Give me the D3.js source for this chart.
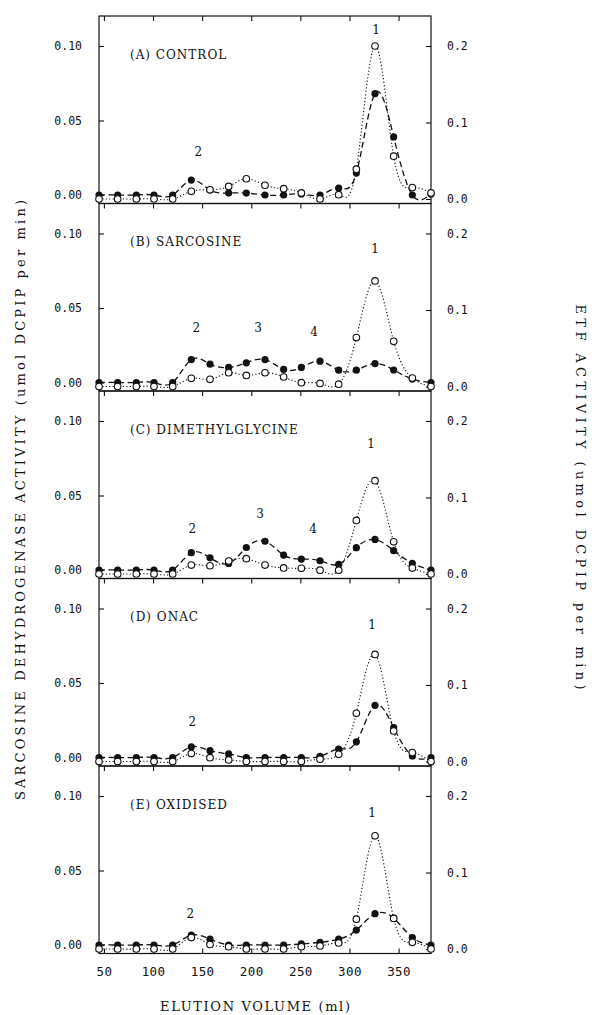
<!DOCTYPE html>
<html>
<head>
<meta charset="utf-8">
<script src="https://cdn.jsdelivr.net/npm/d3@7"></script>
<style>
  html, body { margin: 0; padding: 0; background: #fff; }
  svg { display: block; }
</style>
</head>
<body>
<svg id="chart" width="595" height="1015"></svg>
<script>
// ---------------- DATA ----------------
const volume = [45, 64, 83, 101, 120, 139, 158, 177, 195, 214, 233, 251, 270, 289, 307, 326, 345, 364, 383];

const panelNames = ["(A) CONTROL", "(B) SARCOSINE", "(C) DIMETHYLGLYCINE", "(D) ONAC", "(E) OXIDISED"];

// Sarcosine dehydrogenase activity (filled circles, left axis)
const sdhA = [0, 0, 0, 0, 0, 0.010, 0.0034, 0.0013, 0.0013, 0, 0, 0.0007, 0, 0.0047, 0.0147, 0.068, 0.039, 0, 0.0007];
const sdhB = [0, 0, 0, 0, 0, 0.0154, 0.0123, 0.0101, 0.0132, 0.0154, 0.0088, 0.0101, 0.0143, 0.0083, 0.0083, 0.0127, 0.0084, 0.0023, 0];
const sdhC = [0, 0, 0, 0, 0, 0.0116, 0.0082, 0.0044, 0.0151, 0.0193, 0.010, 0.0073, 0.0062, 0.0038, 0.015, 0.0205, 0.013, 0.0045, 0];
const sdhD = [0, 0, 0, 0, 0, 0.0072, 0.0046, 0.0024, 0, 0, 0, 0, 0.0007, 0.0057, 0.0105, 0.035, 0.020, 0.001, 0];
const sdhE = [0, 0, 0, 0, 0, 0.0066, 0.0039, 0, 0, 0, 0, 0.0007, 0.0018, 0.0039, 0.010, 0.021, 0.018, 0.005, 0];

// ETF activity (open circles, right axis)
const etfA = [0, 0, 0, 0, 0, 0.010, 0.012, 0.0165, 0.0265, 0.018, 0.0135, 0.008, 0, 0.0056, 0.039, 0.20, 0.056, 0.015, 0.008];
const etfB = [0, 0, 0, 0, 0, 0.0107, 0.0094, 0.018, 0.0145, 0.018, 0.0124, 0.005, 0.004, 0.003, 0.064, 0.138, 0.059, 0.011, 0];
const etfC = [0, 0, 0, 0, 0, 0.0117, 0.0108, 0.017, 0.020, 0.0117, 0.008, 0.0074, 0.005, 0.005, 0.070, 0.122, 0.042, 0.0077, 0];
const etfD = [0, 0, 0, 0, 0, 0.0103, 0.005, 0.002, 0, 0, 0, 0, 0.003, 0.0094, 0.063, 0.140, 0.040, 0.0117, 0];
const etfE = [0, 0, 0, 0, 0, 0.015, 0.006, 0.003, 0, 0, 0, 0.003, 0.004, 0.008, 0.039, 0.148, 0.040, 0.0087, 0];

const sdhSeries = [sdhA, sdhB, sdhC, sdhD, sdhE];
const etfSeries = [etfA, etfB, etfC, etfD, etfE];

// Peak labels: [panel index, label, elution volume, value on left axis]
const peakLabels = [
  [0, "1", 327, 0.111], [0, "2", 146, 0.029],
  [1, "1", 326, 0.090], [1, "2", 144, 0.037], [1, "3", 207, 0.037], [1, "4", 264, 0.034],
  [2, "1", 322, 0.085], [2, "2", 140, 0.028], [2, "3", 209, 0.038], [2, "4", 263, 0.028],
  [3, "1", 323, 0.089], [3, "2", 140, 0.024],
  [4, "1", 323, 0.089], [4, "2", 138, 0.021]
];

const xTicks = [50, 100, 150, 200, 250, 300, 350];
const leftTicks = [0, 0.05, 0.10];
const rightTicks = [0, 0.1, 0.2];

const xTitle = "ELUTION VOLUME (ml)";
const leftTitle = "SARCOSINE DEHYDROGENASE ACTIVITY (umol DCPIP per min)";
const rightTitle = "ETF ACTIVITY (umol DCPIP per min)";

// ---------------- LAYOUT ----------------
const svg = d3.select("#chart");
const ink = "#111";
const left = 99, right = 431;
const firstTop = 16, panelH = 187.5;
const serif = "'DejaVu Serif', 'Liberation Serif', serif";
const mono = "'DejaVu Sans Mono', 'Liberation Mono', monospace";

const x = d3.scaleLinear().domain([45, 383]).range([left, right]);

panelNames.forEach((name, p) => {
  const top = firstTop + p * panelH;
  const bottom = top + panelH;
  const yL = d3.scaleLinear().domain([0, 0.1]).range([top + 179, top + 30]);
  const yR = d3.scaleLinear().domain([0, 0.2]).range([top + 183, top + 30]);
  const g = svg.append("g");

  // frame
  g.append("rect")
    .attr("x", left).attr("y", top)
    .attr("width", right - left).attr("height", panelH)
    .attr("fill", "none").attr("stroke", ink).attr("stroke-width", 1.2);

  // top ticks (inward)
  g.append("g").attr("transform", `translate(0,${top})`)
    .call(d3.axisTop(x).tickValues(xTicks).tickSize(-5).tickFormat(""))
    .call(a => a.select(".domain").remove())
    .call(a => a.selectAll("line").attr("stroke", ink).attr("stroke-width", 1.1));

  // left axis
  g.append("g").attr("transform", `translate(${left},0)`)
    .call(d3.axisLeft(yL).tickValues(leftTicks).tickSize(-5).tickPadding(17).tickFormat(d3.format(".2f")))
    .call(a => a.select(".domain").remove())
    .call(a => a.selectAll("line").attr("stroke", ink).attr("stroke-width", 1.1))
    .call(a => a.selectAll("text").attr("fill", ink).style("font-family", mono).style("font-size", "11.5px"));

  // right axis
  g.append("g").attr("transform", `translate(${right},0)`)
    .call(d3.axisRight(yR).tickValues(rightTicks).tickSize(-5).tickPadding(16).tickFormat(d3.format(".1f")))
    .call(a => a.select(".domain").remove())
    .call(a => a.selectAll("line").attr("stroke", ink).attr("stroke-width", 1.1))
    .call(a => a.selectAll("text").attr("fill", ink).style("font-family", mono).style("font-size", "11.5px"));

  // bottom axis on last panel
  if (p === panelNames.length - 1) {
    g.append("g").attr("transform", `translate(0,${bottom})`)
      .call(d3.axisBottom(x).tickValues(xTicks).tickSize(-5).tickPadding(14))
      .call(a => a.select(".domain").remove())
      .call(a => a.selectAll("line").attr("stroke", ink).attr("stroke-width", 1.1))
      .call(a => a.selectAll("text").attr("fill", ink).style("font-family", mono)
        .style("font-size", "12.5px").style("letter-spacing", "0.4px"));
  }

  // panel title
  g.append("text")
    .attr("x", left + 31).attr("y", top + 42.5)
    .attr("fill", ink)
    .style("font-family", serif).style("font-size", "12px").style("letter-spacing", "1px")
    .text(name);

  const sdh = sdhSeries[p].map((v, i) => [volume[i], v]);
  const etf = etfSeries[p].map((v, i) => [volume[i], v]);

  const lineL = d3.line().x(d => x(d[0])).y(d => yL(d[1])).curve(d3.curveNatural);
  const lineR = d3.line().x(d => x(d[0])).y(d => yR(d[1])).curve(d3.curveNatural);

  g.append("path").attr("d", lineR(etf))
    .attr("fill", "none").attr("stroke", ink).attr("stroke-width", 1.1)
    .attr("stroke-dasharray", "1.2,2.2");
  g.append("path").attr("d", lineL(sdh))
    .attr("fill", "none").attr("stroke", ink).attr("stroke-width", 1.3)
    .attr("stroke-dasharray", "6,3.5");

  g.selectAll(".f").data(sdh).enter().append("circle")
    .attr("cx", d => x(d[0])).attr("cy", d => yL(d[1])).attr("r", 3.6)
    .attr("fill", ink);
  g.selectAll(".o").data(etf).enter().append("circle")
    .attr("cx", d => x(d[0])).attr("cy", d => yR(d[1])).attr("r", 3.3)
    .attr("fill", "#fff").attr("stroke", ink).attr("stroke-width", 1.1);

  peakLabels.filter(d => d[0] === p).forEach(d => {
    g.append("text")
      .attr("x", x(d[2])).attr("y", yL(d[3]))
      .attr("dy", "0.36em").attr("text-anchor", "middle")
      .attr("fill", ink)
      .style("font-family", serif).style("font-size", "12px")
      .text(d[1]);
  });
});

// axis titles
svg.append("text")
  .attr("x", 255).attr("y", 1011)
  .attr("text-anchor", "middle").attr("fill", ink)
  .attr("textLength", 190).attr("lengthAdjust", "spacing")
  .style("font-family", serif).style("font-size", "13px")
  .text(xTitle);

svg.append("text")
  .attr("transform", "translate(25,500) rotate(-90)")
  .attr("text-anchor", "middle").attr("fill", ink)
  .attr("textLength", 600).attr("lengthAdjust", "spacing")
  .style("font-family", serif).style("font-size", "13px")
  .text(leftTitle);

svg.append("text")
  .attr("transform", "translate(576,497) rotate(90)")
  .attr("text-anchor", "middle").attr("fill", ink)
  .attr("textLength", 385).attr("lengthAdjust", "spacing")
  .style("font-family", serif).style("font-size", "13px")
  .text(rightTitle);
</script>
</body>
</html>
